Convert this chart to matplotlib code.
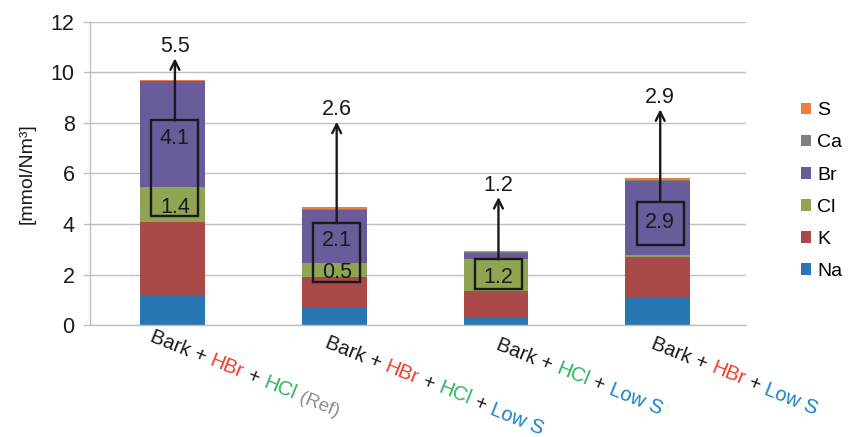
import matplotlib
matplotlib.use("Agg")
import matplotlib.pyplot as plt
from matplotlib.patches import Rectangle
import numpy as np

plt.rcParams['font.family'] = ['Liberation Sans', 'DejaVu Sans']

# data, mmol/Nm3
species = ["Na", "K", "Cl", "Br", "Ca", "S"]
na = [1.16, 0.70, 0.28, 1.07]
k = [2.93, 1.21, 1.08, 1.63]
cl = [1.39, 0.53, 1.24, 0.08]
br = [4.16, 2.11, 0.26, 2.92]
ca = [0.02, 0.03, 0.02, 0.03]
s = [0.05, 0.08, 0.07, 0.10]
colors = ["#2876B2", "#AA4A48", "#8FA552", "#6A5C9B", "#7F7F80", "#EF7D3B"]

# annotations: sum (above arrow) and the values written inside the boxes
top_vals = ["5.5", "2.6", "1.2", "2.9"]
box_vals = [["4.1", "1.4"], ["2.1", "0.5"], ["1.2"], ["2.9"]]

# category labels built from coloured pieces
BLK, RED, GRN, BLU, GRY = "#1a1a1a", "#EE3F2A", "#2EB35B", "#1B82C5", "#8C8C8C"
labels = [
    [("Bark + ", BLK), ("HBr", RED), (" + ", BLK), ("HCl", GRN), (" (Ref)", GRY)],
    [("Bark + ", BLK), ("HBr", RED), (" + ", BLK), ("HCl", GRN), (" + ", BLK), ("Low S", BLU)],
    [("Bark + ", BLK), ("HCl", GRN), (" + ", BLK), ("Low S", BLU)],
    [("Bark + ", BLK), ("HBr", RED), (" + ", BLK), ("Low S", BLU)],
]

# layout of the boxes / arrows (y in data units)
box_lo = [4.3, 1.72, 1.41, 3.19]
box_hi = [8.1, 4.04, 2.6, 4.88]
arrow_tip = [10.56, 8.05, 5.07, 8.54]
box_text_y = [[7.15, 4.45], [3.15, 1.88], [1.65], [3.86]]
label_off = [(-17.0, -11.5), (-7.5, -15.5), (-0.5, -17.0), (-5.5, -16.5)]  # points

fig = plt.figure(figsize=(8.49, 4.37), dpi=100)
ax = fig.add_axes([0.106, 0.256, 0.773, 0.694])

x = np.arange(4)
bottom = np.zeros(4)
series = [na, k, cl, br, ca, s]
handles = []
for name, vals, c in zip(species, series, colors):
    h = ax.bar(x, vals, 0.40, bottom=bottom, color=c, label=name, zorder=2)
    handles.append(h)
    bottom += np.array(vals)

ax.set_xlim(-0.51, 3.547)
ax.set_ylim(0, 12)
ax.set_yticks(range(0, 13, 2))
ax.yaxis.grid(True, color="#BFBFBF", lw=1.0, zorder=0)
ax.set_axisbelow(True)
for sp in ["top", "right"]:
    ax.spines[sp].set_visible(False)
for sp in ["left", "bottom"]:
    ax.spines[sp].set_color("#BFBFBF")
    ax.spines[sp].set_linewidth(1.0)
ax.tick_params(axis="y", colors="#BFBFBF", labelcolor="#1a1a1a", labelsize=15.5,
               length=5, width=1.0, pad=6)
ax.set_xticks([])
ax.set_ylabel("[mmol/Nm³]", fontsize=14, color="#1a1a1a", labelpad=11)

# boxes, arrows, numbers
xc = x + 0.015
for i in range(4):
    ax.add_patch(Rectangle((xc[i] - 0.145, box_lo[i]), 0.29, box_hi[i] - box_lo[i],
                           fill=False, ec="#1a1a1a", lw=1.7, zorder=4))
    ax.annotate("", xy=(xc[i], arrow_tip[i]), xytext=(xc[i], box_hi[i]),
                arrowprops=dict(arrowstyle="->", lw=1.7, color="#1a1a1a",
                                shrinkA=0, shrinkB=0, mutation_scale=16), zorder=4)
    ax.text(xc[i], arrow_tip[i] + 0.25, top_vals[i], ha="center", va="baseline",
            fontsize=15.5, color="#1a1a1a")
    for t, ty in zip(box_vals[i], box_text_y[i]):
        ax.text(xc[i], ty, t, ha="center", va="baseline", fontsize=15.5,
                color="#1a1a1a", zorder=5)

# multicoloured rotated tick labels
rot = 22
fs = 14.5
renderer = fig.canvas.get_renderer()
def text_w(s_, size):
    t = fig.text(0, 0, s_ + "X", fontsize=size)
    w = t.get_window_extent(renderer).width
    t.remove()
    t2 = fig.text(0, 0, "X", fontsize=size)
    w2 = t2.get_window_extent(renderer).width
    t2.remove()
    return (w - w2) * 72.0 / fig.dpi

ca_, sa_ = np.cos(np.radians(rot)), np.sin(np.radians(rot))
for i, pieces in enumerate(labels):
    prefix = ""
    for txt, col in pieces:
        size = 13.5 if "Ref" in txt else fs
        w = text_w(prefix, fs) if prefix else 0.0
        dx = label_off[i][0] + w * ca_
        dy = label_off[i][1] - w * sa_
        ax.annotate(txt, xy=(x[i], 0), xycoords="data", xytext=(dx, dy),
                    textcoords="offset points", rotation=-rot,
                    rotation_mode="anchor", ha="left", va="baseline",
                    fontsize=size, color=col, annotation_clip=False)
        prefix += txt

leg = fig.legend(handles[::-1], species[::-1], loc="upper left",
                 bbox_to_anchor=(0.943, 0.766), frameon=False, fontsize=14,
                 handlelength=0.55, handleheight=0.55, handletextpad=0.3,
                 labelspacing=0.78, borderaxespad=0, borderpad=0)

fig.savefig("out.png", dpi=100)
